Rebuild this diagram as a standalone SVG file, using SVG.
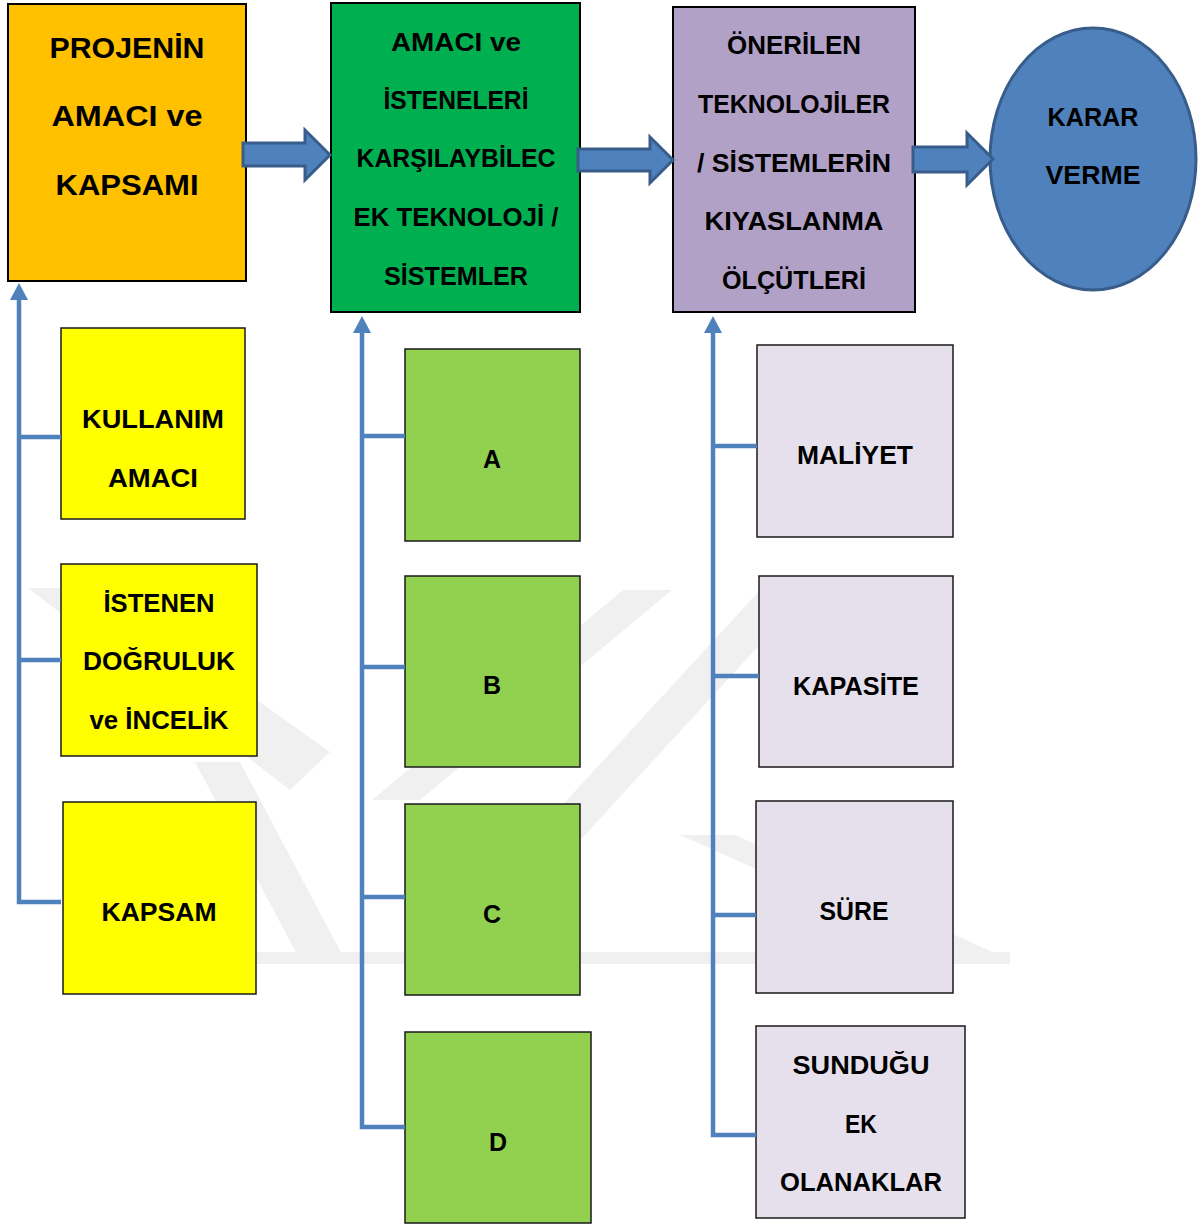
<svg xmlns="http://www.w3.org/2000/svg" width="1203" height="1225" viewBox="0 0 1203 1225">
  <defs>
    <style>
      .lbl { font-family: "Liberation Sans", Arial, sans-serif; font-weight: bold; fill: #000; text-anchor: middle; }
      .big { font-size: 29px; }
      .mid { font-size: 25px; }
      .edge { stroke: #000; stroke-width: 2; }
      .sub { stroke: #1a1a1a; stroke-width: 1.5; }
      .orange { fill: #ffc000; }
      .green { fill: #00b050; }
      .purple { fill: #b2a1c7; }
      .yellow { fill: #ffff00; }
      .lime { fill: #92d050; }
      .lilac { fill: #e5e0ec; }
      .block { fill: #4f81bd; stroke: #385d8a; stroke-width: 3; stroke-linejoin: miter; }
      .link { fill: none; stroke: #4f81bd; stroke-width: 4.5; }
      .wm { fill: #f0f0f0; }
    </style>
    <marker id="up" viewBox="0 0 17 18" markerWidth="17" markerHeight="18" refX="0" refY="9" orient="auto" markerUnits="userSpaceOnUse">
      <path d="M0,0 L17,9 L0,18 Z" fill="#4f81bd"/>
    </marker>
  </defs>

  <rect width="1203" height="1225" fill="#fff"/>

  <!-- faint background emblem -->
  <g id="emblem">
    <polygon class="wm" points="28,588 100,588 330,752 290,790"/>
    <polygon class="wm" points="195,762 240,762 345,960 300,960"/>
    <polygon class="wm" points="623,590 672,590 420,800 372,800"/>
    <polygon class="wm" points="760,590 810,590 470,960 420,960"/>
    <polygon class="wm" points="680,835 735,835 1010,960 960,960"/>
    <polygon class="wm" points="200,952 1010,952 1010,964 200,964"/>
  </g>

  <!-- main flow -->
  <g id="scope">
    <rect class="orange edge" x="8" y="4" width="238" height="277"/>
    <text class="lbl big" x="127" y="58" textLength="155" lengthAdjust="spacingAndGlyphs">PROJENİN</text>
    <text class="lbl big" x="127" y="126" textLength="151" lengthAdjust="spacingAndGlyphs">AMACI ve</text>
    <text class="lbl big" x="127" y="195" textLength="143" lengthAdjust="spacingAndGlyphs">KAPSAMI</text>
  </g>

  <g id="candidates">
    <rect class="green edge" x="331" y="3" width="249" height="309"/>
    <text class="lbl mid" x="456" y="51" textLength="130" lengthAdjust="spacingAndGlyphs">AMACI ve</text>
    <text class="lbl mid" x="456" y="109" textLength="145" lengthAdjust="spacingAndGlyphs">İSTENELERİ</text>
    <text class="lbl mid" x="456" y="167" textLength="199" lengthAdjust="spacingAndGlyphs">KARŞILAYBİLEC</text>
    <text class="lbl mid" x="456" y="226" textLength="205" lengthAdjust="spacingAndGlyphs">EK TEKNOLOJİ /</text>
    <text class="lbl mid" x="456" y="285" textLength="144" lengthAdjust="spacingAndGlyphs">SİSTEMLER</text>
  </g>

  <g id="criteria">
    <rect class="purple edge" x="673" y="7" width="242" height="305"/>
    <text class="lbl mid" x="794" y="54" textLength="134" lengthAdjust="spacingAndGlyphs">ÖNERİLEN</text>
    <text class="lbl mid" x="794" y="113" textLength="192" lengthAdjust="spacingAndGlyphs">TEKNOLOJİLER</text>
    <text class="lbl mid" x="794" y="172" textLength="194" lengthAdjust="spacingAndGlyphs">/ SİSTEMLERİN</text>
    <text class="lbl mid" x="794" y="230" textLength="179" lengthAdjust="spacingAndGlyphs">KIYASLANMA</text>
    <text class="lbl mid" x="794" y="289" textLength="144" lengthAdjust="spacingAndGlyphs">ÖLÇÜTLERİ</text>
  </g>

  <g id="decision">
    <ellipse cx="1093" cy="159" rx="103" ry="131" fill="#4f81bd" stroke="#385d8a" stroke-width="3"/>
    <text class="lbl mid" x="1093" y="126" textLength="91" lengthAdjust="spacingAndGlyphs">KARAR</text>
    <text class="lbl mid" x="1093" y="184" textLength="95" lengthAdjust="spacingAndGlyphs">VERME</text>
  </g>

  <!-- scope details -->
  <g id="usage">
    <rect class="yellow sub" x="61" y="328" width="184" height="191"/>
    <text class="lbl mid" x="153" y="428" textLength="142" lengthAdjust="spacingAndGlyphs">KULLANIM</text>
    <text class="lbl mid" x="153" y="487" textLength="90" lengthAdjust="spacingAndGlyphs">AMACI</text>
  </g>
  <g id="accuracy">
    <rect class="yellow sub" x="61" y="564" width="196" height="192"/>
    <text class="lbl mid" x="159" y="612" textLength="111" lengthAdjust="spacingAndGlyphs">İSTENEN</text>
    <text class="lbl mid" x="159" y="670" textLength="152" lengthAdjust="spacingAndGlyphs">DOĞRULUK</text>
    <text class="lbl mid" x="159" y="729" textLength="139" lengthAdjust="spacingAndGlyphs">ve İNCELİK</text>
  </g>
  <g id="coverage">
    <rect class="yellow sub" x="63" y="802" width="193" height="192"/>
    <text class="lbl mid" x="159" y="921" textLength="115" lengthAdjust="spacingAndGlyphs">KAPSAM</text>
  </g>

  <!-- candidate options -->
  <g id="option-a">
    <rect class="lime sub" x="405" y="349" width="175" height="192"/>
    <text class="lbl mid" x="492" y="468">A</text>
  </g>
  <g id="option-b">
    <rect class="lime sub" x="405" y="576" width="175" height="191"/>
    <text class="lbl mid" x="492" y="694">B</text>
  </g>
  <g id="option-c">
    <rect class="lime sub" x="405" y="804" width="175" height="191"/>
    <text class="lbl mid" x="492" y="923">C</text>
  </g>
  <g id="option-d">
    <rect class="lime sub" x="405" y="1032" width="186" height="191"/>
    <text class="lbl mid" x="498" y="1151">D</text>
  </g>

  <!-- comparison criteria -->
  <g id="cost">
    <rect class="lilac sub" x="757" y="345" width="196" height="192"/>
    <text class="lbl mid" x="855" y="464" textLength="116" lengthAdjust="spacingAndGlyphs">MALİYET</text>
  </g>
  <g id="capacity">
    <rect class="lilac sub" x="759" y="576" width="194" height="191"/>
    <text class="lbl mid" x="856" y="695" textLength="126" lengthAdjust="spacingAndGlyphs">KAPASİTE</text>
  </g>
  <g id="duration">
    <rect class="lilac sub" x="756" y="801" width="197" height="192"/>
    <text class="lbl mid" x="854" y="920" textLength="69" lengthAdjust="spacingAndGlyphs">SÜRE</text>
  </g>
  <g id="extras">
    <rect class="lilac sub" x="756" y="1026" width="209" height="192"/>
    <text class="lbl mid" x="861" y="1074" textLength="137" lengthAdjust="spacingAndGlyphs">SUNDUĞU</text>
    <text class="lbl mid" x="861" y="1133" textLength="32" lengthAdjust="spacingAndGlyphs">EK</text>
    <text class="lbl mid" x="861" y="1191" textLength="162" lengthAdjust="spacingAndGlyphs">OLANAKLAR</text>
  </g>

  <!-- connectors -->
  <g id="connectors">
    <polygon class="block" points="243,143 305,143 305,130 330,155 305,180 305,166 243,166"/>
    <polygon class="block" points="578,149 650,149 650,137 673,160 650,183 650,171 578,171"/>
    <polygon class="block" points="913,147 967,147 967,133 993,159 967,185 967,172 913,172"/>

    <path class="link" d="M61,902 H19 V300" marker-end="url(#up)"/>
    <path class="link" d="M19,437 H61"/>
    <path class="link" d="M19,660 H61"/>

    <path class="link" d="M405,1127 H362 V333" marker-end="url(#up)"/>
    <path class="link" d="M362,436 H405"/>
    <path class="link" d="M362,667 H405"/>
    <path class="link" d="M362,897 H405"/>

    <path class="link" d="M756,1135 H713 V333" marker-end="url(#up)"/>
    <path class="link" d="M713,446 H757"/>
    <path class="link" d="M713,676 H759"/>
    <path class="link" d="M713,915 H756"/>
  </g>
</svg>
